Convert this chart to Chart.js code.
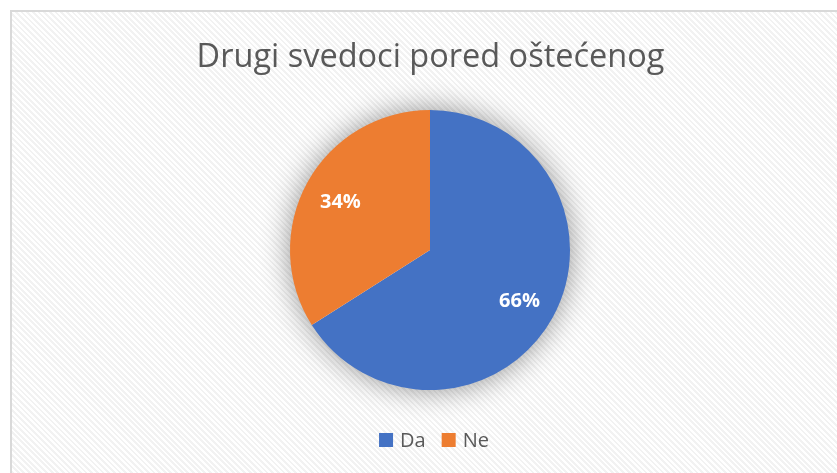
<!DOCTYPE html>
<html>
<head>
<meta charset="utf-8">
<script src="https://cdn.jsdelivr.net/npm/chart.js@4/dist/chart.umd.min.js"></script>
<style>
  html, body { margin:0; padding:0; background:#fff; }
  #wrap { position:relative; width:837px; height:473px; overflow:hidden; background:#fff; }
  #box { position:absolute; left:10px; top:10px; width:900px; height:600px; border:2px solid #d9d9d9;
    background: repeating-linear-gradient(45deg, #ffffff 0px, #ffffff 2px, #f2f2f2 2px, #f2f2f2 4px); }
  canvas { position:absolute; left:0; top:0; }
</style>
</head>
<body>
<div id="wrap">
  <div id="box"></div>
  <canvas id="c" width="837" height="473"></canvas>
</div>
<script>
const titleText = "Drugi svedoci pored oštećenog";
const categories = ["Da", "Ne"];
const values = [66, 34];
const valueLabels = ["66%", "34%"];
const colors = ["#4472C4", "#ED7D31"];

const shadowPlugin = {
  id: 'shadow',
  beforeDatasetsDraw(chart) {
    const arc = chart.getDatasetMeta(0).data[0];
    if (!arc) return;
    const ctx = chart.ctx;
    ctx.save();
    ctx.shadowColor = 'rgba(0,0,0,0.45)';
    ctx.shadowBlur = 30;
    ctx.fillStyle = '#ffffff';
    ctx.beginPath();
    ctx.arc(arc.x, arc.y, arc.outerRadius - 1, 0, Math.PI * 2);
    ctx.fill();
    ctx.restore();
  }
};

const decorPlugin = {
  id: 'decor',
  afterDatasetsDraw(chart) {
    const ctx = chart.ctx;
    const meta = chart.getDatasetMeta(0);
    ctx.save();
    ctx.fillStyle = '#ffffff';
    ctx.font = 'bold 20px "Open Sans"';
    ctx.textAlign = 'center';
    ctx.textBaseline = 'middle';
    meta.data.forEach((arc, i) => {
      const mid = (arc.startAngle + arc.endAngle) / 2;
      const r = arc.outerRadius * 0.73;
      ctx.fillText(valueLabels[i], arc.x + Math.cos(mid) * r, arc.y + Math.sin(mid) * r + 2);
    });
    ctx.fillStyle = '#595959';
    ctx.font = '32.5px "Open Sans"';
    ctx.textBaseline = 'alphabetic';
    ctx.fillText(titleText, 430.5, 67);
    ctx.font = '20px "Open Sans"';
    ctx.textAlign = 'left';
    ctx.textBaseline = 'middle';
    const gap = 16, box = 14, tgap = 7;
    const widths = categories.map(t => box + tgap + ctx.measureText(t).width);
    const total = widths.reduce((a, b) => a + b, 0) + gap * (categories.length - 1);
    let x = 434 - total / 2;
    const y = 440;
    categories.forEach((t, i) => {
      ctx.fillStyle = colors[i];
      ctx.fillRect(x, y - box / 2, box, box);
      ctx.fillStyle = '#595959';
      ctx.fillText(t, x + box + tgap, y + 1);
      x += widths[i] + gap;
    });
    ctx.restore();
  }
};

new Chart(document.getElementById('c'), {
  type: 'pie',
  data: {
    labels: categories,
    datasets: [{ data: values, backgroundColor: colors, borderWidth: 0 }]
  },
  options: {
    responsive: false,
    animation: false,
    layout: { padding: { left: 290, right: 267, top: 110, bottom: 83 } },
    plugins: { legend: { display: false }, title: { display: false }, tooltip: { enabled: false } }
  },
  plugins: [shadowPlugin, decorPlugin]
});
</script>
</body>
</html>
